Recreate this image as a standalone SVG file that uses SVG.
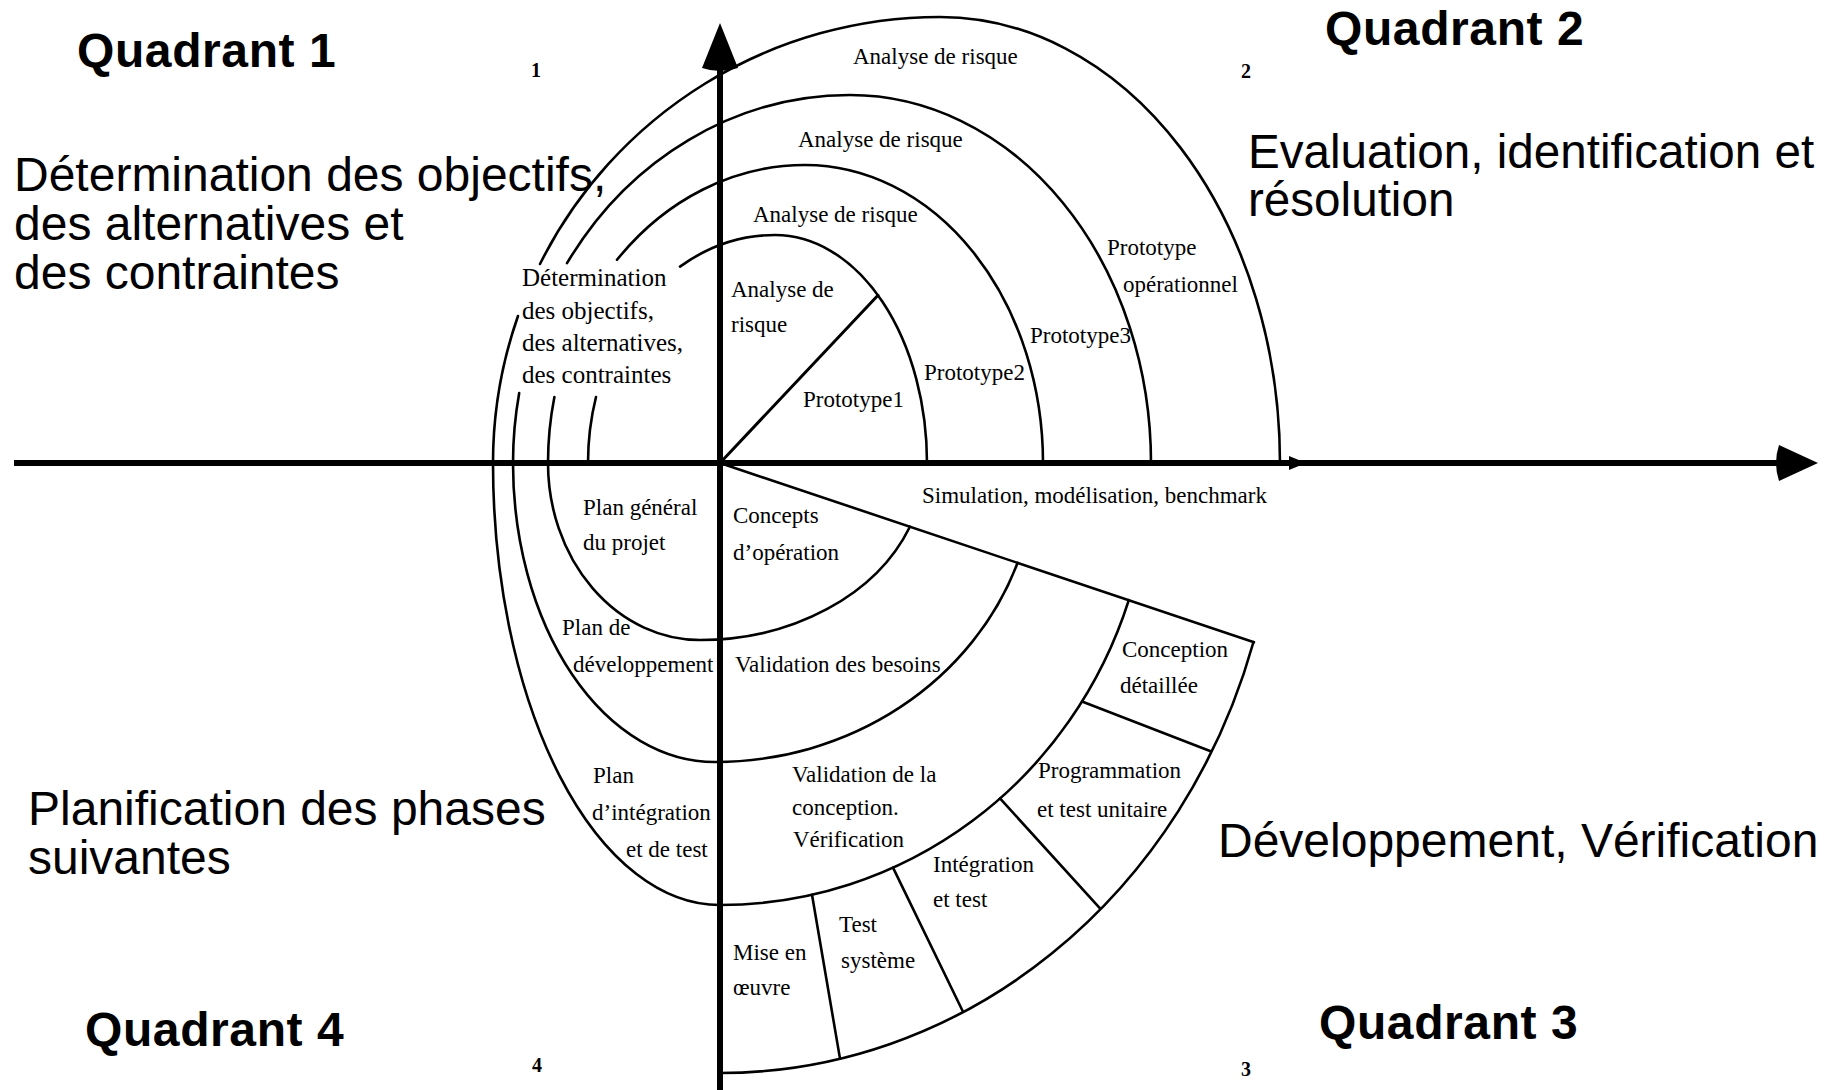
<svg xmlns="http://www.w3.org/2000/svg" width="1829" height="1090" viewBox="0 0 1829 1090">
  <style>
    .ax { stroke: #000; stroke-width: 6; fill: none; }
    .ln { stroke: #000; stroke-width: 2.6; fill: none; stroke-linecap: round; stroke-linejoin: round; }
    .head { fill: #000; stroke: none; }
    .big { font-family: "Liberation Sans", Arial, sans-serif; font-size: 48px; fill: #000; }
    .q { font-weight: bold; letter-spacing: 0.6px; }
    .lb { font-family: "Liberation Serif", "Times New Roman", serif; font-size: 23px; fill: #000; }
    .lb25 { font-size: 25px; }
    .num { font-family: "Liberation Serif", "Times New Roman", serif; font-size: 20px; font-weight: bold; fill: #000; }
  </style>
  <rect width="1829" height="1090" fill="#fff"/>

  <!-- axes -->
  <g id="axes">
    <line class="ax" x1="14" y1="463" x2="1782" y2="463"/>
    <path class="head" d="M1818,463 L1779,445 Q1773,463 1779,481 Z"/>
    <line class="ax" x1="720" y1="1090" x2="720" y2="64"/>
    <path class="head" d="M720,23 L738,68 Q720,74 702,68 Z"/>
    <path class="head" d="M1306,463 L1289,456 L1289,470 Z"/>
  </g>

  <!-- spiral and sector boundaries -->
  <g id="connectors">
    <!-- upper half-turns (each ends on the horizontal axis) -->
    <path class="ln" d="M680,266.6 A187,228 0 0 1 775,235 A152,228 0 0 1 927,463"/>
    <path class="ln" d="M596,397 A187,228 0 0 0 588,463"/>
    <path class="ln" d="M617,259.8 A257,298 0 0 1 805,165 A238,298 0 0 1 1043,463"/>
    <path class="ln" d="M554.4,397 A257,298 0 0 0 548,463"/>
    <path class="ln" d="M567,263.2 A337,368 0 0 1 850,95 A301,368 0 0 1 1151,463"/>
    <path class="ln" d="M519.2,393 A337,368 0 0 0 513,463"/>
    <path class="ln" d="M540,264 A447,446 0 0 1 940,17 A340,446 0 0 1 1280,463"/>
    <path class="ln" d="M518,316 A447,446 0 0 0 493,463"/>
    <!-- lower half-turns, cut by the diagonal -->
    <path class="ln" d="M548,463 A152,177 0 0 0 700,640 A225,177 0 0 0 909.9,526.7"/>
    <path class="ln" d="M513,463 A202,299 0 0 0 715,762 A321,299 0 0 0 1017.6,562.8"/>
    <path class="ln" d="M493,463 A227,442 0 0 0 720,905 A430,442 0 0 0 1128.8,600.2"/>
    <path class="ln" d="M720,1073 A558,610 0 0 0 1253.5,642"/>
    <!-- radial lines -->
    <path class="ln" d="M720,463 L1254,642.2"/>
    <path class="ln" d="M720,463 L878,295.3" style="stroke-width:3"/>
    <path class="ln" d="M1082,701.5 L1210,751"/>
    <path class="ln" d="M1000,798.4 L1100,908.3"/>
    <path class="ln" d="M893,867.6 L963,1011.7"/>
    <path class="ln" d="M812,894.7 L840,1058.6"/>
  </g>

  <!-- quadrant titles -->
  <g id="quadrant-1">
    <text class="big q" x="77" y="67">Quadrant 1</text>
    <text class="num" x="531" y="77">1</text>
    <text class="big" x="14" y="191">Détermination des objectifs,</text>
    <text class="big" x="14" y="240">des alternatives et</text>
    <text class="big" x="14" y="289">des contraintes</text>
  </g>
  <g id="quadrant-2">
    <text class="big q" x="1325" y="45">Quadrant 2</text>
    <text class="num" x="1241" y="78">2</text>
    <text class="big" x="1248" y="168" style="font-size:47.6px">Evaluation, identification et</text>
    <text class="big" x="1248" y="216" style="font-size:47.6px">résolution</text>
  </g>
  <g id="quadrant-3">
    <text class="big q" x="1319" y="1039">Quadrant 3</text>
    <text class="num" x="1241" y="1076">3</text>
    <text class="big" x="1218" y="857">Développement, Vérification</text>
  </g>
  <g id="quadrant-4">
    <text class="big q" x="85" y="1046">Quadrant 4</text>
    <text class="num" x="532" y="1072">4</text>
    <text class="big" x="28" y="825">Planification des phases</text>
    <text class="big" x="28" y="874">suivantes</text>
  </g>

  <!-- sector labels -->
  <g id="risk-analysis-4"><text class="lb" x="853" y="64">Analyse de risque</text></g>
  <g id="risk-analysis-3"><text class="lb" x="798" y="147">Analyse de risque</text></g>
  <g id="risk-analysis-2"><text class="lb" x="753" y="222">Analyse de risque</text></g>
  <g id="risk-analysis-1">
    <text class="lb" x="731" y="297">Analyse de</text>
    <text class="lb" x="731" y="332">risque</text>
  </g>
  <g id="prototype-1"><text class="lb" x="803" y="407">Prototype1</text></g>
  <g id="prototype-2"><text class="lb" x="924" y="380">Prototype2</text></g>
  <g id="prototype-3"><text class="lb" x="1030" y="343">Prototype3</text></g>
  <g id="prototype-op">
    <text class="lb" x="1107" y="255">Prototype</text>
    <text class="lb" x="1123" y="292">opérationnel</text>
  </g>
  <g id="objectives">
    <text class="lb lb25" x="522" y="286">Détermination</text>
    <text class="lb lb25" x="522" y="319">des objectifs,</text>
    <text class="lb lb25" x="522" y="351">des alternatives,</text>
    <text class="lb lb25" x="522" y="383">des contraintes</text>
  </g>
  <g id="simulation"><text class="lb" x="922" y="503">Simulation, modélisation, benchmark</text></g>
  <g id="plan-general">
    <text class="lb" x="583" y="515">Plan général</text>
    <text class="lb" x="583" y="550">du projet</text>
  </g>
  <g id="concepts">
    <text class="lb" x="733" y="523">Concepts</text>
    <text class="lb" x="733" y="560">d’opération</text>
  </g>
  <g id="plan-dev">
    <text class="lb" x="562" y="635">Plan de</text>
    <text class="lb" x="573" y="672">développement</text>
  </g>
  <g id="validation-besoins"><text class="lb" x="735" y="672">Validation des besoins</text></g>
  <g id="plan-integration">
    <text class="lb" x="593" y="783">Plan</text>
    <text class="lb" x="592" y="820">d’intégration</text>
    <text class="lb" x="626" y="857">et de test</text>
  </g>
  <g id="validation-conception">
    <text class="lb" x="792" y="782">Validation de la</text>
    <text class="lb" x="792" y="815">conception.</text>
    <text class="lb" x="793" y="847">Vérification</text>
  </g>
  <g id="conception-detaillee">
    <text class="lb" x="1122" y="657">Conception</text>
    <text class="lb" x="1120" y="693">détaillée</text>
  </g>
  <g id="programmation">
    <text class="lb" x="1038" y="778">Programmation</text>
    <text class="lb" x="1037" y="817">et test unitaire</text>
  </g>
  <g id="integration">
    <text class="lb" x="933" y="872">Intégration</text>
    <text class="lb" x="933" y="907">et test</text>
  </g>
  <g id="test-systeme">
    <text class="lb" x="839" y="932">Test</text>
    <text class="lb" x="841" y="968">système</text>
  </g>
  <g id="mise-en-oeuvre">
    <text class="lb" x="733" y="960">Mise en</text>
    <text class="lb" x="733" y="995">œuvre</text>
  </g>
</svg>
